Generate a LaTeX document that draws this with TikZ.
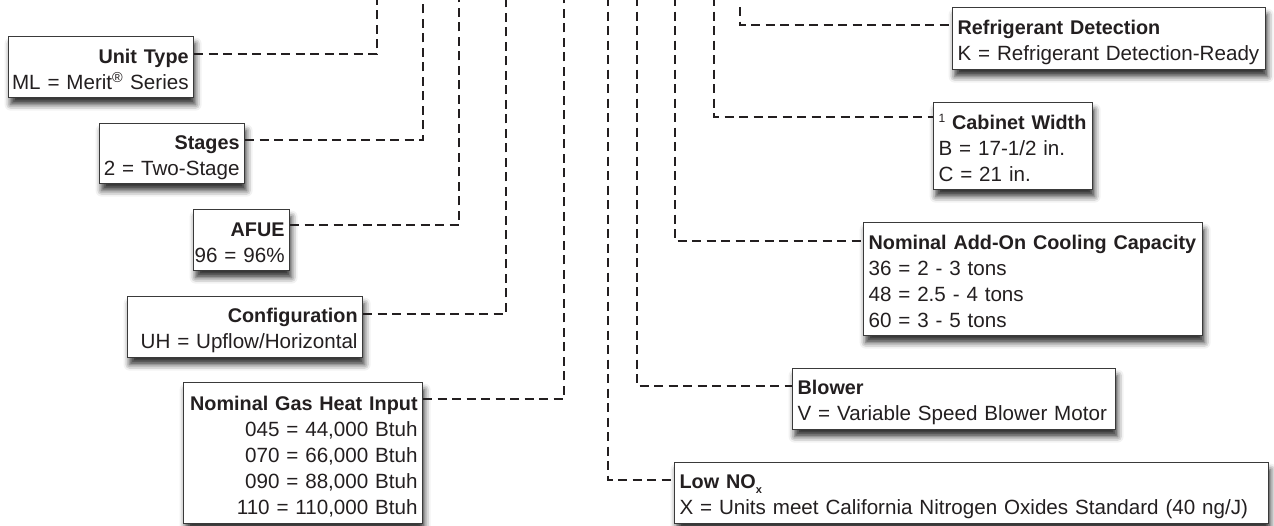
\documentclass[tikz,border=0pt]{standalone}
\usepackage{fontspec}
\setmainfont{Liberation Sans}
\usetikzlibrary{shadows.blur}
\definecolor{ink}{HTML}{231F20}
\definecolor{edgec}{HTML}{3A3A3A}
\newcommand{\hd}[1]{{\fontsize{19.8}{26}\selectfont\bfseries #1}}
\newcommand{\topst}{\rule{0pt}{22pt}}
\newcommand{\botst}{\rule[-2.5pt]{0pt}{2.5pt}}
\newcommand{\LR}[1]{\makebox[\linewidth][r]{#1}}
\newcommand{\LL}[1]{\makebox[\linewidth][l]{#1}}
\begin{document}
\begin{tikzpicture}[x=1pt,y=-1pt,
  font=\fontsize{20.6}{26}\selectfont, text=ink,
  box/.style={draw=edgec, line width=1.2pt, fill=white, inner xsep=5pt, inner ysep=0pt,
    anchor=north west,
    blur shadow={shadow xshift=2pt, shadow yshift=-7pt, shadow blur radius=6pt, shadow opacity=80}},
  lbox/.style={box, align=right},
  rbox/.style={box, align=left},
  conn/.style={draw=ink, line width=2.6pt, dash pattern=on 9pt off 5.5pt}]
\useasboundingbox (0,0) rectangle (1274,525);
% left boxes
\node[lbox, text width=175pt, minimum height=61pt] (ut) at (8,36)
  {\LR{\topst\hd{Unit Type}}\\\LR{ML = Merit\textsuperscript{\textregistered} Series\botst}};
\node[lbox, text width=135pt, minimum height=60pt] (st) at (99,123)
  {\LR{\topst\hd{Stages}}\\\LR{2 = Two-Stage\botst}};
\node[lbox, text width=86pt, minimum height=61pt] (af) at (193,209)
  {\LR{\topst\hd{AFUE}}\\\LR{96 = 96\%\botst}};
\node[lbox, text width=225pt, minimum height=61pt] (cf) at (127,296)
  {\LR{\topst\hd{Configuration}}\\\LR{UH = Upflow/Horizontal\botst}};
\node[lbox, text width=229pt, minimum height=141pt] (ng) at (183,382)
  {\LR{\topst\hd{Nominal Gas Heat Input}}\\\LR{045 = 44,000 Btuh}\\\LR{070 = 66,000 Btuh}\\\LR{090 = 88,000 Btuh}\\\LR{110 = 110,000 Btuh\botst}};
% right boxes
\node[rbox, text width=303pt, minimum height=62pt] (rd) at (952,7)
  {\LL{\topst\hd{Refrigerant Detection}}\\\LL{K = Refrigerant Detection-Ready\botst}};
\node[rbox, text width=149pt, minimum height=87pt] (cw) at (933,102)
  {\LL{\topst{\fontsize{12}{12}\selectfont\raisebox{7pt}{1}} \hd{Cabinet Width}}\\\LL{B = 17-1/2 in.}\\\LL{C = 21 in.\botst}};
\node[rbox, text width=329pt, minimum height=113pt] (ac) at (863,222)
  {\LL{\topst\hd{Nominal Add-On Cooling Capacity}}\\\LL{36 = 2 - 3 tons}\\\LL{48 = 2.5 - 4 tons}\\\LL{60 = 3 - 5 tons\botst}};
\node[rbox, text width=313pt, minimum height=61pt] (bl) at (792,368)
  {\LL{\topst\hd{Blower}}\\\LL{V = Variable Speed Blower Motor\botst}};
\node[rbox, text width=584pt, minimum height=61pt] (ln) at (674,462)
  {\LL{\topst\hd{Low NO\raisebox{-5pt}{\fontsize{11}{11}\selectfont x}}}\\\LL{X = Units meet California Nitrogen Oxides Standard (40 ng/J)\botst}};
% top ends of the leader lines
\coordinate (t1) at (377,-3);
\coordinate (t2) at (423,-3);
\coordinate (t3) at (459,-3);
\coordinate (t4) at (506,-3);
\coordinate (t5) at (564,-3);
\coordinate (t6) at (608,-3);
\coordinate (t7) at (637,-3);
\coordinate (t8) at (675,-3);
\coordinate (t9) at (714,-3);
\coordinate (t10) at (740,7);
% heights of the leader lines
\coordinate (y1) at (0,54);
\coordinate (y2) at (0,140);
\coordinate (y3) at (0,225);
\coordinate (y4) at (0,314);
\coordinate (y5) at (0,399);
\coordinate (y6) at (0,480);
\coordinate (y7) at (0,386);
\coordinate (y8) at (0,241);
\coordinate (y9) at (0,117);
\coordinate (y10) at (0,25);
\draw[conn] (ut.east |- y1) -| (t1);
\draw[conn] (st.east |- y2) -| (t2);
\draw[conn] (af.east |- y3) -| (t3);
\draw[conn] (cf.east |- y4) -| (t4);
\draw[conn] (ng.east |- y5) -| (t5);
\draw[conn] (t6) |- (ln.west |- y6);
\draw[conn] (t7) |- (bl.west |- y7);
\draw[conn] (t8) |- (ac.west |- y8);
\draw[conn] (t9) |- (cw.west |- y9);
\draw[conn] (t10) |- (rd.west |- y10);
\end{tikzpicture}
\end{document}
